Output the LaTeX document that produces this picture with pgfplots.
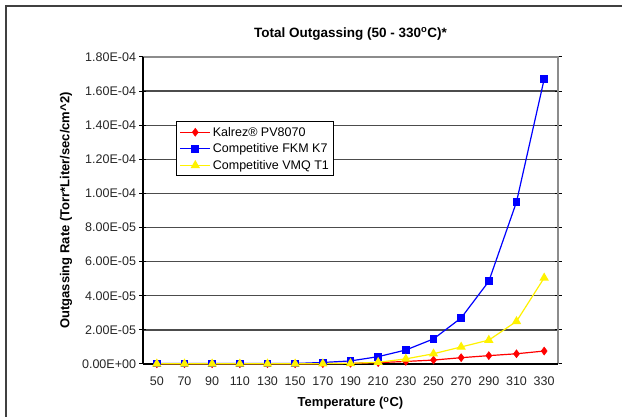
\documentclass[border=0pt]{standalone}
\usepackage{fontspec}
\setmainfont{Liberation Sans}
\usepackage{pgfplots}
\pgfplotsset{compat=1.18}
\begin{document}
\begin{tikzpicture}
\begin{axis}[
  at={(0pt,0pt)}, anchor=south west,
  scale only axis, width=415pt, height=307pt,
  xmin=-0.5, xmax=14.5, ymin=0, ymax=1.8e-4,
  xtick={0,...,14},
  xticklabels={50,70,90,110,130,150,170,190,210,230,250,270,290,310,330},
  major x tick style={draw=none},
  extra x ticks={-0.5,0.5,...,14.5},
  extra x tick labels={},
  extra x tick style={major tick length=4pt, tick align=outside, tick style={black, line width=1pt}},
  ytick={0,2e-5,4e-5,6e-5,8e-5,1e-4,1.2e-4,1.4e-4,1.6e-4,1.8e-4},
  yticklabels={0.00E+00,2.00E-05,4.00E-05,6.00E-05,8.00E-05,1.00E-04,1.20E-04,1.40E-04,1.60E-04,1.80E-04},
  scaled y ticks=false,
  ytick align=center, major tick length=7pt,
  y tick style={black, line width=1pt},
  ymajorgrids, major grid style={black!70, line width=1.3pt},
  axis line style={draw=none},
  tick label style={font=\fontsize{12.5}{14}\selectfont, text=black!85},
  xticklabel style={yshift=-9pt},
  /pgf/number format/assume math mode=true,
  xlabel={\textbf{Temperature (\textsuperscript{o}C)}},
  ylabel={\textbf{Outgassing Rate (Torr*Liter/sec/cm\textasciicircum 2)}},
  label style={font=\fontsize{13}{15}\selectfont},
  xlabel style={yshift=-1pt},
  ylabel style={yshift=3pt},
  title={\textbf{Total Outgassing (50 - 330\textsuperscript{o}C)*}},
  title style={font=\fontsize{13.5}{15}\selectfont, yshift=7pt},
  legend style={at={(0.08,0.79)}, anchor=north west, draw=black, line width=1pt,
    font=\fontsize{12.5}{14}\selectfont, row sep=2pt, inner sep=3pt, cells={anchor=west}},
  legend image code/.code={\draw[mark repeat=2,mark phase=2] plot coordinates {(0pt,0pt)(15pt,0pt)(30pt,0pt)};},
  legend cell align=left,
  clip=false,
]
\draw[black!45, line width=1.3pt] (rel axis cs:0,1) -- (rel axis cs:1,1) -- (rel axis cs:1,0);
\draw[black, line width=1.5pt] (rel axis cs:0,0) -- (rel axis cs:0,1);
\draw[black, line width=1.5pt] (rel axis cs:0,0) -- (rel axis cs:1,0);
\addplot[red, line width=1.2pt, mark=diamond*, mark size=4pt, mark options={line width=0.5pt}] coordinates {
(0,0.1e-6)(1,0.1e-6)(2,0.1e-6)(3,0.1e-6)(4,0.1e-6)(5,0.1e-6)(6,0.2e-6)(7,0.4e-6)(8,0.8e-6)(9,1.5e-6)(10,2.3e-6)(11,3.7e-6)(12,4.9e-6)(13,6.0e-6)(14,7.6e-6)};
\addlegendentry{Kalrez\textregistered{} PV8070}
\addplot[blue, line width=1.2pt, mark=square*, mark size=3.3pt] coordinates {
(0,0.3e-6)(1,0.3e-6)(2,0.3e-6)(3,0.3e-6)(4,0.3e-6)(5,0.3e-6)(6,0.9e-6)(7,1.8e-6)(8,4.3e-6)(9,8.2e-6)(10,14.7e-6)(11,27e-6)(12,48.5e-6)(13,95e-6)(14,167e-6)};
\addlegendentry{Competitive FKM K7}
\addplot[yellow, line width=1.2pt, mark=triangle*, mark size=4.2pt] coordinates {
(0,0.1e-6)(1,0.1e-6)(2,0.1e-6)(3,0.1e-6)(4,0.1e-6)(5,0.1e-6)(6,0.2e-6)(7,0.4e-6)(8,1.0e-6)(9,3.0e-6)(10,6.0e-6)(11,10e-6)(12,14e-6)(13,25e-6)(14,50.5e-6)};
\addlegendentry{Competitive VMQ T1}
\end{axis}
\pgfresetboundingbox
\path[use as bounding box] (-143pt,-53pt) rectangle (479pt,364pt);
\draw[line width=2.2pt, black!75] (-137pt,-53pt) -- (-137pt,358pt) -- (479pt,358pt);
\end{tikzpicture}
\end{document}
